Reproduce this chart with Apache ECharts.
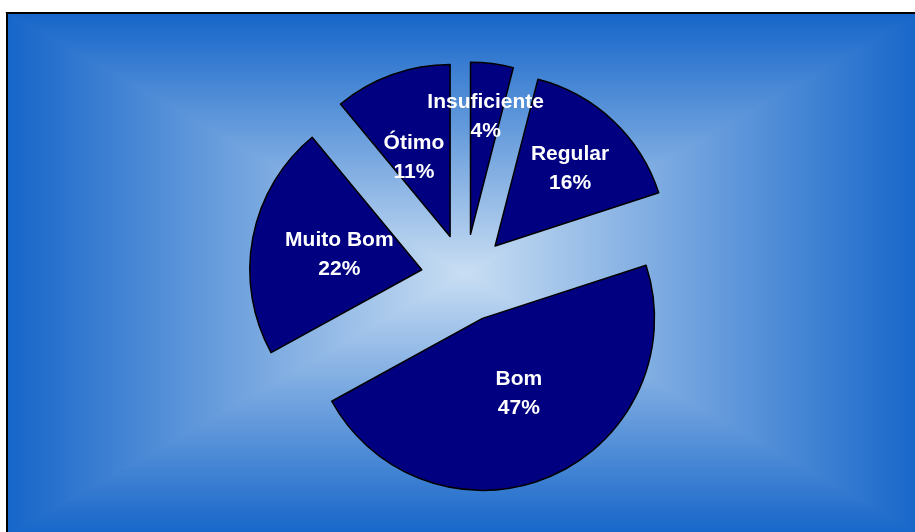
<!DOCTYPE html>
<html>
<head>
<meta charset="utf-8">
<script src="https://cdn.jsdelivr.net/npm/echarts@6/dist/echarts.min.js"></script>
<style>
  html, body { margin: 0; padding: 0; background: #ffffff; }
  #chart { width: 915px; height: 532px; }
</style>
</head>
<body>
<div id="chart"></div>
<script>
// ---- Data ----
const categories = ['Insuficiente', 'Regular', 'Bom', 'Muito Bom', 'Ótimo'];
const values = [4, 16, 47, 22, 11];

// ---- Layout / style settings ----
const labelShift = [[4, -29], [14, -12], [1, -6], [5, 2], [-6, 5]];
const plot = { x0: 7, y0: 13, x1: 923, y1: 535, cx: 465, cy: 274 };
const edgeColor = '#1565c9';
const centerColor = '#c9def3';

function tri(points, x, y, x2, y2) {
  const grad = {
    type: 'linear', x: x, y: y, x2: x2, y2: y2,
    colorStops: [{ offset: 0, color: edgeColor }, { offset: 1, color: centerColor }]
  };
  return {
    type: 'polygon',
    silent: true,
    z: -10,
    shape: { points: points },
    style: { fill: grad, stroke: grad, lineWidth: 1.2 }
  };
}

const p = plot;
const graphics = [
  tri([[p.x0, p.y0], [p.x1, p.y0], [p.cx, p.cy]], 0, 0, 0, 1),
  tri([[p.x0, p.y1], [p.x1, p.y1], [p.cx, p.cy]], 0, 1, 0, 0),
  tri([[p.x0, p.y0], [p.x0, p.y1], [p.cx, p.cy]], 0, 0, 1, 0),
  tri([[p.x1, p.y0], [p.x1, p.y1], [p.cx, p.cy]], 1, 0, 0, 0),
  {
    type: 'rect', silent: true, z: -5,
    shape: { x: p.x0, y: p.y0, width: p.x1 - p.x0, height: p.y1 - p.y0 },
    style: { fill: null, stroke: '#000', lineWidth: 2 }
  }
];

const chart = echarts.init(document.getElementById('chart'), null, { renderer: 'canvas' });
chart.setOption({
  animation: false,
  backgroundColor: '#ffffff',
  graphic: graphics,
  series: [{
    type: 'pie',
    center: [465, 278],
    radius: [0, 172],
    startAngle: 90,
    clockwise: true,
    selectedMode: 'multiple',
    selectedOffset: 44,
    avoidLabelOverlap: false,
    emphasis: { disabled: true },
    itemStyle: { color: '#000080', borderColor: '#000000', borderWidth: 1.5 },
    select: { itemStyle: { color: '#000080', borderColor: '#000000', borderWidth: 1.5 } },
    label: {
      show: true,
      position: 'inside',
      formatter: '{b}\n{d}%',
      color: '#ffffff',
      fontFamily: '"Liberation Sans", Arial, sans-serif',
      fontWeight: 'bold',
      fontSize: 21,
      lineHeight: 29,
      textBorderWidth: 0,
      align: 'center'
    },
    labelLine: { show: false },
    labelLayout: function (params) {
      const s = labelShift[params.dataIndex] || [0, 0];
      return { dx: s[0], dy: s[1] };
    },
    data: categories.map(function (c, i) {
      return { name: c, value: values[i], selected: true };
    })
  }]
});
</script>
</body>
</html>
